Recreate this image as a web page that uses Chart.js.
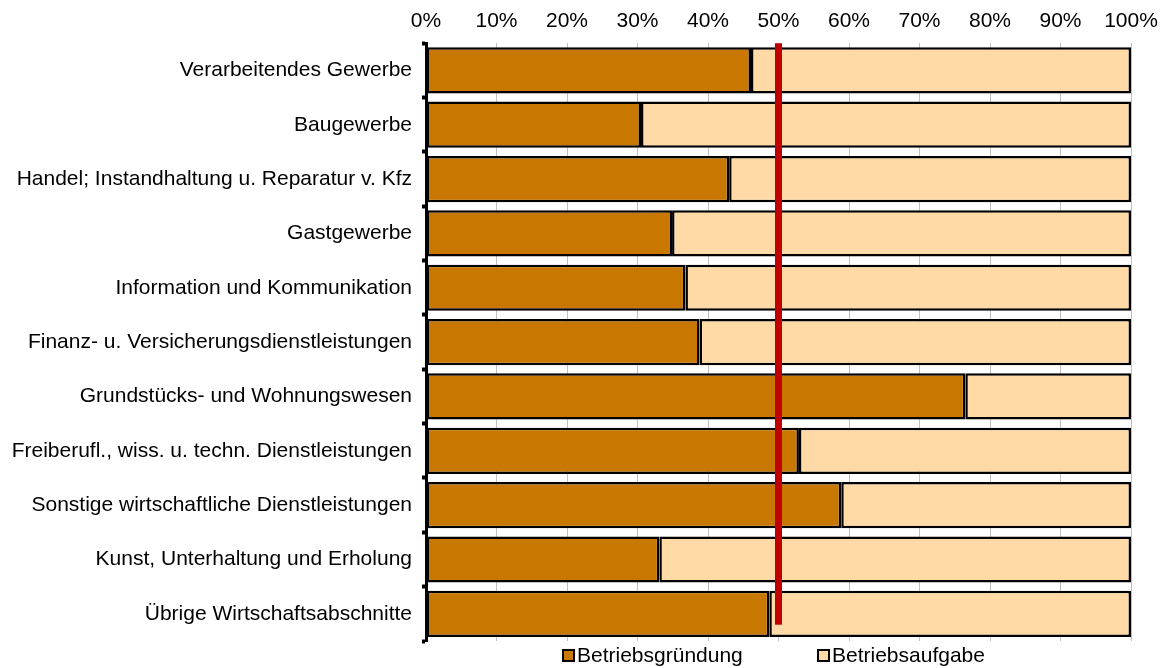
<!DOCTYPE html>
<html>
<head>
<meta charset="utf-8">
<script src="https://cdn.jsdelivr.net/npm/chart.js@4"></script>
<style>
  html, body { margin: 0; padding: 0; background: #fff; }
  #wrap { position: relative; width: 1163px; height: 668px; }
  #legend {
    position: absolute; left: 0; top: 643px; width: 1163px; height: 24px;
    font-family: "Liberation Sans", Arial, sans-serif; font-size: 21px; color: #000;
  }
  .item { position: absolute; top: 0; display: flex; align-items: center; line-height: 24px; }
  .box { width: 9px; height: 9px; border: 2px solid #000; margin-right: 2px; }
</style>
</head>
<body>
<div id="wrap">
  <canvas id="chart" width="1163" height="668"></canvas>
  <div id="legend"></div>
</div>
<script>
const categories = [
    'Verarbeitendes Gewerbe',
    'Baugewerbe',
    'Handel; Instandhaltung u. Reparatur v. Kfz',
    'Gastgewerbe',
    'Information und Kommunikation',
    'Finanz- u. Versicherungsdienstleistungen',
    'Grundstücks- und Wohnungswesen',
    'Freiberufl., wiss. u. techn. Dienstleistungen',
    'Sonstige wirtschaftliche Dienstleistungen',
    'Kunst, Unterhaltung und Erholung',
    'Übrige Wirtschaftsabschnitte'
];
const gruendung = [46.1, 30.5, 43.0, 34.9, 36.8, 38.8, 76.5, 52.9, 58.9, 33.1, 48.7];
const aufgabe = gruendung.map(v => +(100 - v).toFixed(1));
const xTicks = [0, 10, 20, 30, 40, 50, 60, 70, 80, 90, 100];
const markLine = 50;

const seriesNames = ['Betriebsgründung', 'Betriebsaufgabe'];
const seriesColors = ['#C87700', '#FFDAA6'];

// red reference line at 50%
const redLine = {
    id: 'redLine',
    afterDatasetsDraw(chart) {
        const { ctx, scales: { x, y } } = chart;
        const px = x.getPixelForValue(markLine);
        const band = y.getPixelForValue(1) - y.getPixelForValue(0);
        const top = chart.chartArea.top;
        const bottom = y.getPixelForValue(categories.length - 1) + band * 0.2;
        ctx.save();
        ctx.fillStyle = '#C00000';
        ctx.fillRect(px - 3.5, top, 7, bottom - top);
        ctx.restore();
    }
};

Chart.defaults.font.family = '"Liberation Sans", Arial, sans-serif';
Chart.defaults.font.size = 21;
Chart.defaults.color = '#000';

new Chart(document.getElementById('chart'), {
    type: 'bar',
    data: {
        labels: categories,
        datasets: [
            { label: seriesNames[0], data: gruendung, backgroundColor: seriesColors[0], borderColor: '#000', borderWidth: 2.5, borderSkipped: false },
            { label: seriesNames[1], data: aufgabe, backgroundColor: seriesColors[1], borderColor: '#000', borderWidth: 2.5, borderSkipped: false }
        ]
    },
    options: {
        indexAxis: 'y',
        responsive: false,
        animation: false,
        layout: { padding: { left: 6, right: 32, top: 0, bottom: 27 } },
        datasets: { bar: { categoryPercentage: 1, barPercentage: 0.85 } },
        plugins: { legend: { display: false }, tooltip: { enabled: false } },
        scales: {
            x: {
                position: 'top',
                stacked: true,
                min: 0,
                max: 100,
                afterBuildTicks: axis => { axis.ticks = xTicks.map(v => ({ value: v })); },
                afterFit: axis => { axis.paddingRight = 0; },
                ticks: { callback: v => v + '%', padding: 9, maxRotation: 0 },
                grid: { color: '#C0C0C0', lineWidth: 1, drawTicks: false },
                border: { display: false }
            },
            y: {
                stacked: true,
                afterFit: axis => { axis.width = 420; },
                ticks: { padding: 10 },
                grid: { drawOnChartArea: false, drawTicks: true, tickLength: 4, tickColor: '#000', tickWidth: 4, offset: true },
                border: { color: '#000', width: 3 }
            }
        }
    },
    plugins: [redLine]
});

// legend below the chart
const legend = document.getElementById('legend');
const legendX = [562, 817];
seriesNames.forEach((name, i) => {
    const item = document.createElement('div');
    item.className = 'item';
    item.style.left = legendX[i] + 'px';
    item.innerHTML = `<span class="box" style="background:${seriesColors[i]}"></span><span>${name}</span>`;
    legend.appendChild(item);
});
</script>
</body>
</html>
